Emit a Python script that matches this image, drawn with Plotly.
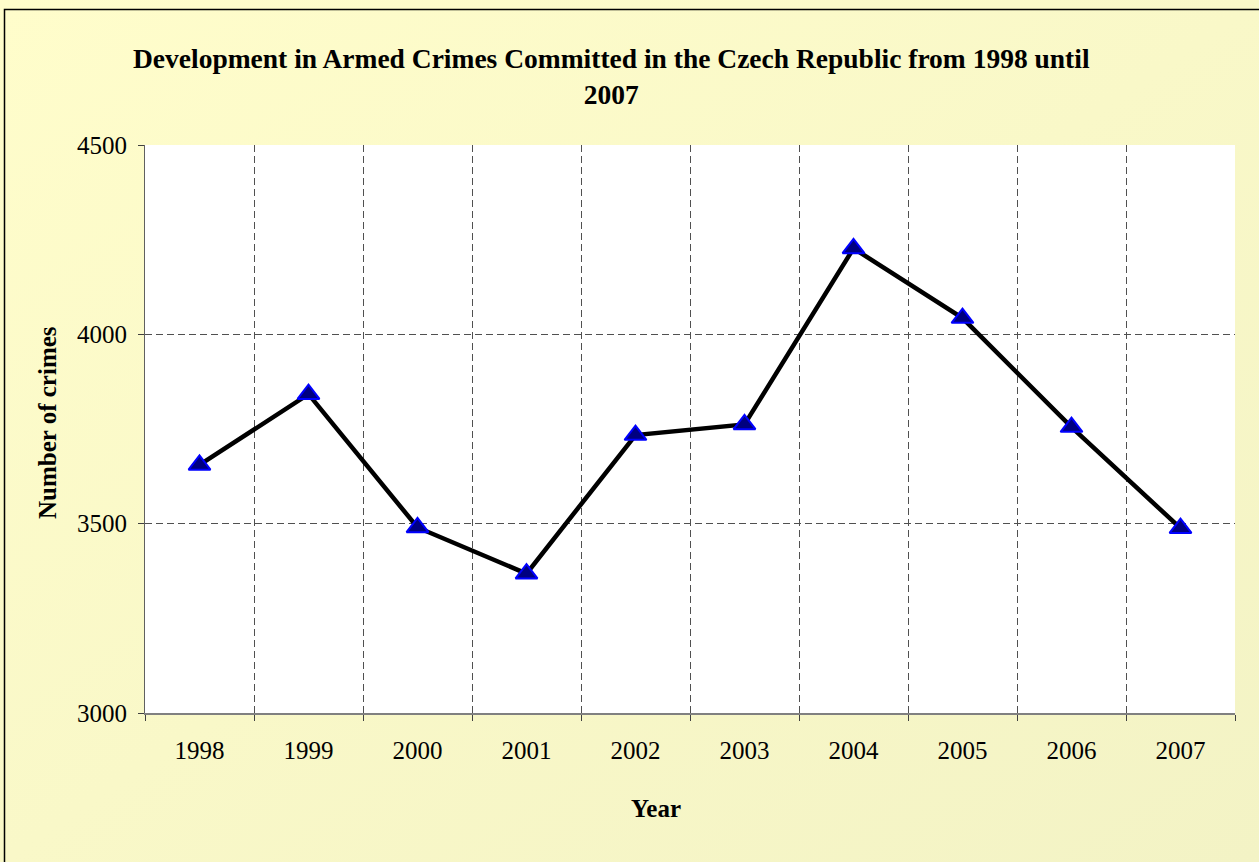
import base64
import plotly.graph_objects as go

# Armed crimes recorded per year
years = ["1998", "1999", "2000", "2001", "2002", "2003", "2004", "2005", "2006", "2007"]
crimes = [3655, 3842, 3490, 3368, 3734, 3762, 4227, 4043, 3755, 3488]

y_ticks = [3000, 3500, 4000, 4500]

W, H = 1259, 862
L, R, T, B = 145, 24, 145, 149
PW, PH = W - L - R, H - T - B

FONT = "Liberation Serif, Times New Roman, serif"


def px_x(p):
    return (p - L) / PW


def px_y(p):
    return (H - B - p) / PH


# soft diagonal yellow gradient for the chart area
svg = (
    '<svg xmlns="http://www.w3.org/2000/svg" width="1259" height="862">'
    '<defs><linearGradient id="g" x1="0" y1="0" x2="1" y2="1">'
    '<stop offset="0" stop-color="#FFFDCB"/>'
    '<stop offset="1" stop-color="#F3F3C5"/>'
    '</linearGradient></defs>'
    '<rect width="1259" height="862" fill="url(#g)"/></svg>'
)
bg_uri = "data:image/svg+xml;base64," + base64.b64encode(svg.encode()).decode()

fig = go.Figure()
fig.add_trace(
    go.Scatter(
        x=years,
        y=crimes,
        mode="lines+markers",
        line=dict(color="#000000", width=4.5),
        marker=dict(
            symbol="triangle-up",
            size=19,
            color="#000080",
            line=dict(color="#0000FF", width=2),
        ),
        cliponaxis=False,
        showlegend=False,
    )
)

fig.add_layout_image(
    dict(
        source=bg_uri,
        xref="paper", yref="paper",
        x=px_x(0), y=px_y(0),
        sizex=W / PW, sizey=H / PH,
        xanchor="left", yanchor="top",
        sizing="stretch",
        layer="below",
    )
)

# white plotting area and outer chart frame
fig.add_shape(type="rect", xref="paper", yref="paper", x0=0, x1=1, y0=0, y1=1,
              fillcolor="#FFFFFF", line=dict(width=0), layer="below")
fig.add_shape(type="rect", xref="paper", yref="paper",
              x0=px_x(4.5), x1=px_x(W + 20), y0=px_y(H + 20), y1=px_y(9.5),
              fillcolor="rgba(0,0,0,0)", line=dict(color="#000000", width=1.5),
              layer="below")

fig.add_annotation(
    text="<b>Development in Armed Crimes Committed in the Czech Republic from 1998 until<br>2007</b>",
    xref="paper", yref="paper", x=px_x(611), y=px_y(76),
    xanchor="center", yanchor="middle", showarrow=False,
    font=dict(family=FONT, size=27.5, color="#000000"),
)
fig.add_annotation(
    text="<b>Year</b>", xref="paper", yref="paper", x=px_x(656), y=px_y(808),
    xanchor="center", yanchor="middle", showarrow=False,
    font=dict(family=FONT, size=25, color="#000000"),
)
fig.add_annotation(
    text="<b>Number of crimes</b>", xref="paper", yref="paper", x=px_x(47), y=px_y(423),
    xanchor="center", yanchor="middle", showarrow=False, textangle=-90,
    font=dict(family=FONT, size=25, color="#000000"),
)

fig.update_layout(
    width=W, height=H,
    margin=dict(l=L, r=R, t=T, b=B, pad=0),
    paper_bgcolor="#FAF8C8",
    plot_bgcolor="#FFFFFF",
    font=dict(family=FONT, size=25, color="#000000"),
    xaxis=dict(
        type="category",
        range=[-0.5, 9.5],
        tickson="boundaries",
        showgrid=True, gridcolor="#505050", gridwidth=1, griddash="7px,4px",
        showline=True, linecolor="#808080", linewidth=2,
        ticks="outside", ticklen=6, tickcolor="#404040", tickwidth=1,
        tickfont=dict(family=FONT, size=25, color="#000000"),
        ticklabelstandoff=14,
        zeroline=False,
    ),
    yaxis=dict(
        range=[3000, 4500],
        tickvals=y_ticks,
        showgrid=True, gridcolor="#505050", gridwidth=1, griddash="7px,4px",
        showline=True, linecolor="#606060", linewidth=1,
        ticks="outside", ticklen=6, tickcolor="#404040", tickwidth=1,
        tickfont=dict(family=FONT, size=25, color="#000000"),
        ticklabelstandoff=6,
        zeroline=False,
    ),
)

fig.write_html("out.html")
